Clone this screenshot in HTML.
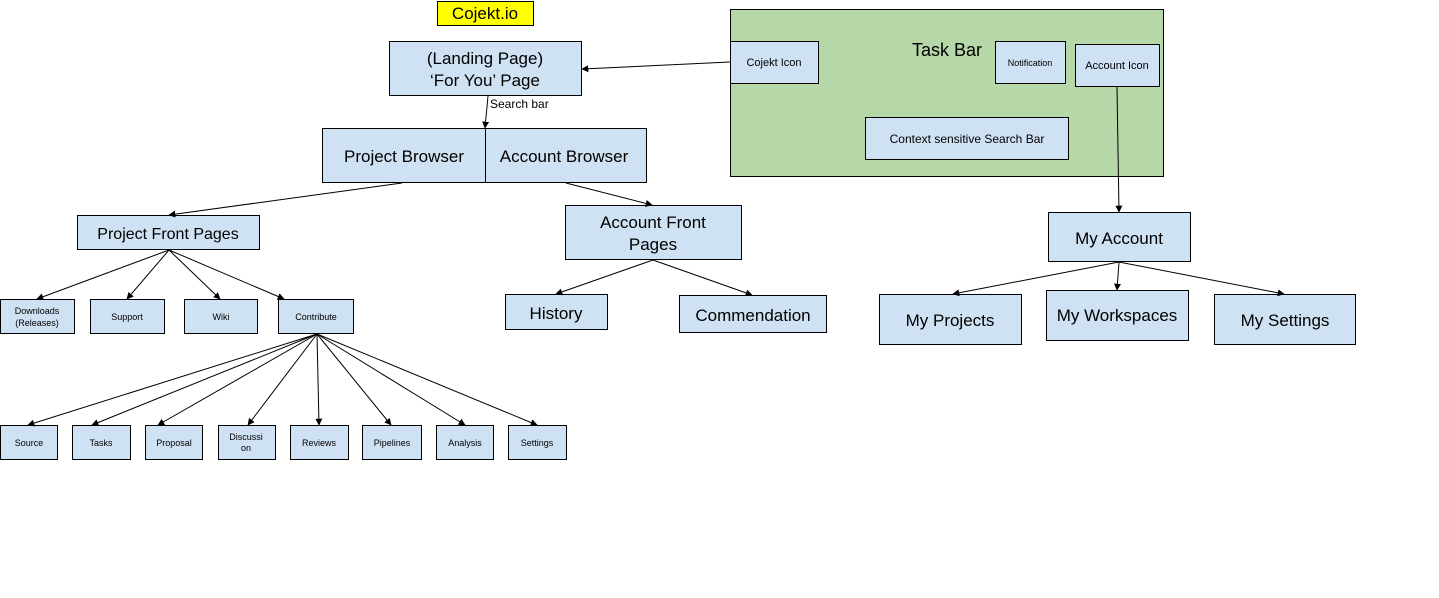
<!DOCTYPE html>
<html><head><meta charset="utf-8"><style>
html,body{margin:0;padding:0;background:#fff;width:1439px;height:598px;overflow:hidden}
svg{display:block}
text{font-family:"Liberation Sans",Arial,sans-serif;fill:#000}
.b{fill:#cfe2f3;stroke:#000;stroke-width:1}
.l{stroke:#000;stroke-width:1;fill:none;marker-end:url(#a)}
</style></head><body>
<svg width="1439" height="598" viewBox="0 0 1439 598" xmlns="http://www.w3.org/2000/svg">
<defs><marker id="a" viewBox="0 0 10 10" refX="9" refY="5" markerWidth="7" markerHeight="7" orient="auto" markerUnits="userSpaceOnUse"><path d="M0,0 L10,5 L0,10 z" fill="#000"/></marker></defs>
<rect width="1439" height="598" fill="#fff"/>
<rect x="437.5" y="1.5" width="96" height="24" fill="#ffff00" stroke="#000"/>
<text x="485" y="19" font-size="17" text-anchor="middle">Cojekt.io</text>

<rect x="730.5" y="9.5" width="433" height="167" fill="#b6d7a8" stroke="#000"/>
<text x="947" y="56" font-size="18" text-anchor="middle">Task Bar</text>
<rect class="b" x="730.5" y="41.5" width="88" height="42"/>
<text x="774" y="66" font-size="11" text-anchor="middle">Cojekt Icon</text>
<rect class="b" x="995.5" y="41.5" width="70" height="42"/>
<text x="1030" y="66" font-size="9" text-anchor="middle">Notification</text>
<rect class="b" x="1075.5" y="44.5" width="84" height="42"/>
<text x="1117" y="69" font-size="11" text-anchor="middle">Account Icon</text>
<rect class="b" x="865.5" y="117.5" width="203" height="42"/>
<text x="967" y="143" font-size="12" text-anchor="middle">Context sensitive Search Bar</text>

<rect class="b" x="389.5" y="41.5" width="192" height="54"/>
<text x="485" y="64" font-size="17" text-anchor="middle">(Landing Page)</text>
<text x="485" y="86" font-size="17" text-anchor="middle">‘For You’ Page</text>
<text x="490" y="108" font-size="12">Search bar</text>

<rect class="b" x="322.5" y="128.5" width="163" height="54"/>
<text x="404" y="162" font-size="17" text-anchor="middle">Project Browser</text>
<rect class="b" x="485.5" y="128.5" width="161" height="54"/>
<text x="564" y="162" font-size="17" text-anchor="middle">Account Browser</text>

<rect class="b" x="77.5" y="215.5" width="182" height="34"/>
<text x="168" y="239" font-size="16" text-anchor="middle">Project Front Pages</text>
<rect class="b" x="565.5" y="205.5" width="176" height="54"/>
<text x="653" y="228" font-size="17" text-anchor="middle">Account Front</text>
<text x="653" y="250" font-size="17" text-anchor="middle">Pages</text>

<rect class="b" x="505.5" y="294.5" width="102" height="35"/>
<text x="556" y="319" font-size="17" text-anchor="middle">History</text>
<rect class="b" x="679.5" y="295.5" width="147" height="37"/>
<text x="753" y="321" font-size="17" text-anchor="middle">Commendation</text>

<rect class="b" x="0.5" y="299.5" width="74" height="34"/>
<text x="37" y="314" font-size="9" text-anchor="middle">Downloads</text>
<text x="37" y="326" font-size="9" text-anchor="middle">(Releases)</text>
<rect class="b" x="90.5" y="299.5" width="74" height="34"/>
<text x="127" y="320" font-size="9" text-anchor="middle">Support</text>
<rect class="b" x="184.5" y="299.5" width="73" height="34"/>
<text x="221" y="320" font-size="9" text-anchor="middle">Wiki</text>
<rect class="b" x="278.5" y="299.5" width="75" height="34"/>
<text x="316" y="320" font-size="9" text-anchor="middle">Contribute</text>

<rect class="b" x="0.5" y="425.5" width="57" height="34"/><text x="29" y="446" font-size="9" text-anchor="middle">Source</text>
<rect class="b" x="72.5" y="425.5" width="58" height="34"/><text x="101" y="446" font-size="9" text-anchor="middle">Tasks</text>
<rect class="b" x="145.5" y="425.5" width="57" height="34"/><text x="174" y="446" font-size="9" text-anchor="middle">Proposal</text>
<rect class="b" x="218.5" y="425.5" width="57" height="34"/><text x="246" y="440" font-size="9" text-anchor="middle">Discussi</text><text x="246" y="451" font-size="9" text-anchor="middle">on</text>
<rect class="b" x="290.5" y="425.5" width="58" height="34"/><text x="319" y="446" font-size="9" text-anchor="middle">Reviews</text>
<rect class="b" x="362.5" y="425.5" width="59" height="34"/><text x="392" y="446" font-size="9" text-anchor="middle">Pipelines</text>
<rect class="b" x="436.5" y="425.5" width="57" height="34"/><text x="465" y="446" font-size="9" text-anchor="middle">Analysis</text>
<rect class="b" x="508.5" y="425.5" width="58" height="34"/><text x="537" y="446" font-size="9" text-anchor="middle">Settings</text>

<rect class="b" x="1048.5" y="212.5" width="142" height="49"/>
<text x="1119" y="244" font-size="17" text-anchor="middle">My Account</text>
<rect class="b" x="879.5" y="294.5" width="142" height="50"/>
<text x="950" y="326" font-size="17" text-anchor="middle">My Projects</text>
<rect class="b" x="1046.5" y="290.5" width="142" height="50"/>
<text x="1117" y="321" font-size="17" text-anchor="middle">My Workspaces</text>
<rect class="b" x="1214.5" y="294.5" width="141" height="50"/>
<text x="1285" y="326" font-size="17" text-anchor="middle">My Settings</text>

<line class="l" x1="730" y1="62" x2="582" y2="69"/>
<line class="l" x1="488" y1="96" x2="485" y2="128"/>
<line class="l" x1="402" y1="183" x2="169" y2="215"/>
<line class="l" x1="566" y1="183" x2="652" y2="205"/>
<line class="l" x1="169" y1="250" x2="37" y2="299"/>
<line class="l" x1="169" y1="250" x2="127" y2="299"/>
<line class="l" x1="169" y1="250" x2="220" y2="299"/>
<line class="l" x1="169" y1="250" x2="284" y2="299"/>
<line class="l" x1="653" y1="260" x2="556" y2="294"/>
<line class="l" x1="653" y1="260" x2="752" y2="295"/>
<line class="l" x1="317" y1="334" x2="28" y2="425"/>
<line class="l" x1="317" y1="334" x2="92" y2="425"/>
<line class="l" x1="317" y1="334" x2="158" y2="425"/>
<line class="l" x1="317" y1="334" x2="248" y2="425"/>
<line class="l" x1="317" y1="334" x2="319" y2="425"/>
<line class="l" x1="317" y1="334" x2="391" y2="425"/>
<line class="l" x1="317" y1="334" x2="465" y2="425"/>
<line class="l" x1="317" y1="334" x2="537" y2="425"/>
<line class="l" x1="1117" y1="87" x2="1119" y2="212"/>
<line class="l" x1="1119" y1="262" x2="953" y2="294"/>
<line class="l" x1="1119" y1="262" x2="1117" y2="290"/>
<line class="l" x1="1119" y1="262" x2="1284" y2="294"/>
</svg>
</body></html>
